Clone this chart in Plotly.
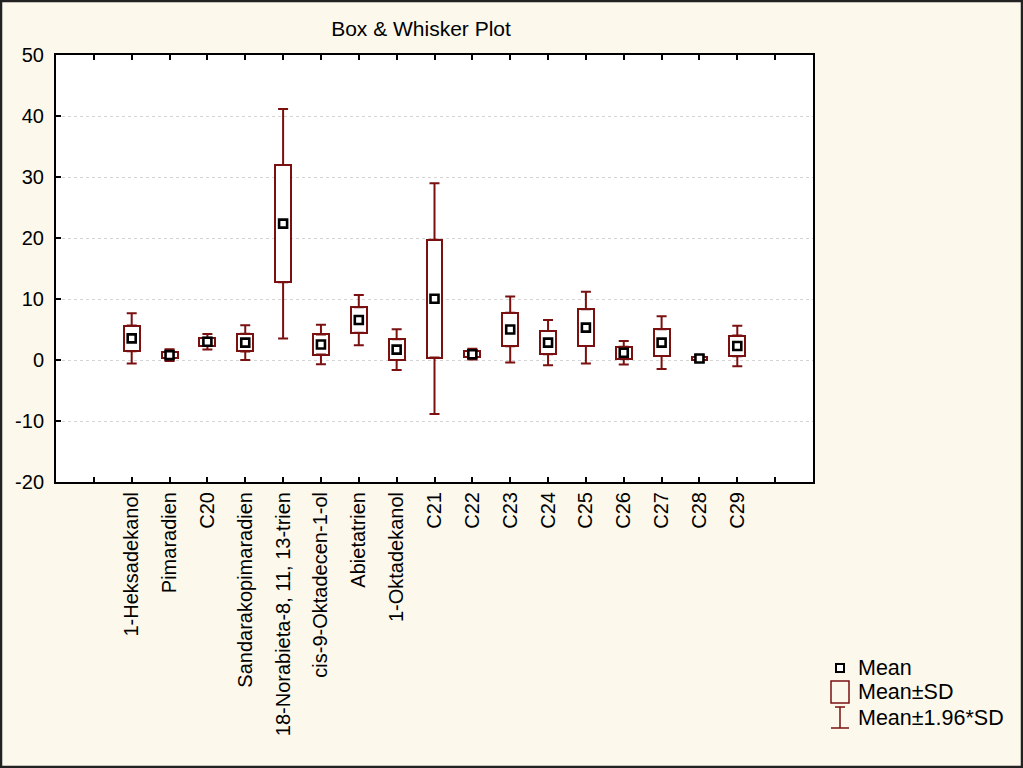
import plotly.graph_objects as go

# ---- data ----
categories = ["1-Heksadekanol", "Pimaradien", "C20", "Sandarakopimaradien",
              "18-Norabieta-8, 11, 13-trien", "cis-9-Oktadecen-1-ol", "Abietatrien",
              "1-Oktadekanol", "C21", "C22", "C23", "C24", "C25", "C26", "C27", "C28", "C29"]
means = [3.55, 0.8, 3.0, 2.85, 22.35, 2.55, 6.55, 1.7, 10.05, 0.95, 5.0, 2.85, 5.3, 1.2, 2.85, 0.25, 2.3]
sds = [2.1, 0.5, 0.65, 1.45, 9.6, 1.65, 2.1, 1.7, 9.65, 0.45, 2.75, 1.9, 3.0, 0.98, 2.2, 0.3, 1.7]
y_ticks = [-20, -10, 0, 10, 20, 30, 40, 50]
y_tick_labels = ["-20", "-10", "0", "10", "20", "30", "40", "50"]
legend_labels = ["Mean", "Mean\u00b1SD", "Mean\u00b11.96*SD"]

# padding categories (empty ticks at both ends, as in the original)
pad_left, pad_right = " ", "  "
cat_order = [pad_left] + categories + [pad_right]

RED = "#7a1010"
FONT = "Arial, Liberation Sans, sans-serif"
W, H = 1023, 768
ML, MR, MT, MB = 56, 210, 55, 286
PW, PH = W - ML - MR, H - MT - MB


def px(x):
    return (x - ML) / PW


def py(y):
    return (H - MB - y) / PH


box_low = [m - s for m, s in zip(means, sds)]
box_high = [m + s for m, s in zip(means, sds)]
box_size = [2 * s for s in sds]
whisk_ext = [0.96 * s for s in sds]
zeros = [0.0] * len(sds)

fig = go.Figure()

# Mean ± SD boxes
fig.add_trace(go.Bar(
    x=categories, y=box_size, base=box_low, width=0.42,
    marker=dict(color="white", line=dict(color=RED, width=2)),
    showlegend=False, hoverinfo="skip"))

# Whiskers (Mean ± 1.96*SD), drawn from the box edges outward
fig.add_trace(go.Scatter(
    x=categories + categories, y=box_high + box_low, mode="markers",
    marker=dict(size=1, opacity=0),
    error_y=dict(type="data", symmetric=False,
                 array=whisk_ext + zeros, arrayminus=zeros + whisk_ext,
                 color=RED, thickness=2, width=5),
    showlegend=False, hoverinfo="skip"))

# Mean markers
fig.add_trace(go.Scatter(
    x=categories, y=means, mode="markers",
    marker=dict(symbol="square", size=8, color="white",
                line=dict(color="black", width=2.6)),
    showlegend=False))

shapes = []
# outer frame
shapes.append(dict(type="rect", xref="paper", yref="paper",
                   x0=px(1), x1=px(W - 1), y0=py(H - 1), y1=py(1),
                   line=dict(color="#222222", width=2.5), layer="below"))
# legend symbols
shapes.append(dict(type="rect", xref="paper", yref="paper",
                   x0=px(836), x1=px(844), y0=py(672), y1=py(664),
                   line=dict(color="black", width=2), fillcolor="white"))
shapes.append(dict(type="rect", xref="paper", yref="paper",
                   x0=px(831), x1=px(849), y0=py(703), y1=py(681),
                   line=dict(color=RED, width=1.5)))
for (x0, y0, x1, y1) in [(835, 707, 845, 707), (840, 707, 840, 728), (831, 728, 849, 728)]:
    shapes.append(dict(type="line", xref="paper", yref="paper",
                       x0=px(x0), x1=px(x1), y0=py(y0), y1=py(y1),
                       line=dict(color=RED, width=1.5)))

annotations = []
for lab, yc in zip(legend_labels, [668, 692, 718]):
    annotations.append(dict(text=lab, xref="paper", yref="paper",
                            x=px(856), y=py(yc), xanchor="left", yanchor="middle",
                            showarrow=False, font=dict(family=FONT, size=21.5, color="black")))

fig.update_layout(
    width=W, height=H,
    margin=dict(l=ML, r=MR, t=MT, b=MB, pad=0),
    paper_bgcolor="#fcf8ec", plot_bgcolor="white",
    font=dict(family=FONT, size=20, color="black"),
    title=dict(text="Box & Whisker Plot", x=421 / W, xref="container", xanchor="center",
               y=1 - 29 / H, yref="container", yanchor="middle",
               font=dict(family=FONT, size=21, color="black")),
    shapes=shapes, annotations=annotations,
    bargap=0, showlegend=False,
)

fig.update_xaxes(
    type="category", categoryorder="array", categoryarray=cat_order,
    tickvals=cat_order, ticktext=[""] + categories + [""],
    range=[-1, len(cat_order)],
    tickangle=-90, ticks="inside", ticklen=5, tickwidth=1.5, tickcolor="black",
    showline=True, linecolor="black", linewidth=2, mirror="ticks",
    showgrid=False, tickfont=dict(family=FONT, size=20, color="black"))

fig.update_yaxes(
    range=[-20, 50], tickvals=y_ticks, ticktext=y_tick_labels,
    ticks="inside", ticklen=5, tickwidth=1.5,
    tickcolor="black", showline=True, linecolor="black", linewidth=2, mirror=True,
    showgrid=True, gridcolor="#d4d4d4", gridwidth=1, griddash="dot", zeroline=False,
    ticklabelstandoff=6,
    tickfont=dict(family=FONT, size=20, color="black"))

fig.write_html("out.html", config={"displayModeBar": False},
               post_script="document.body.style.margin='0';document.body.style.overflow='hidden';")
